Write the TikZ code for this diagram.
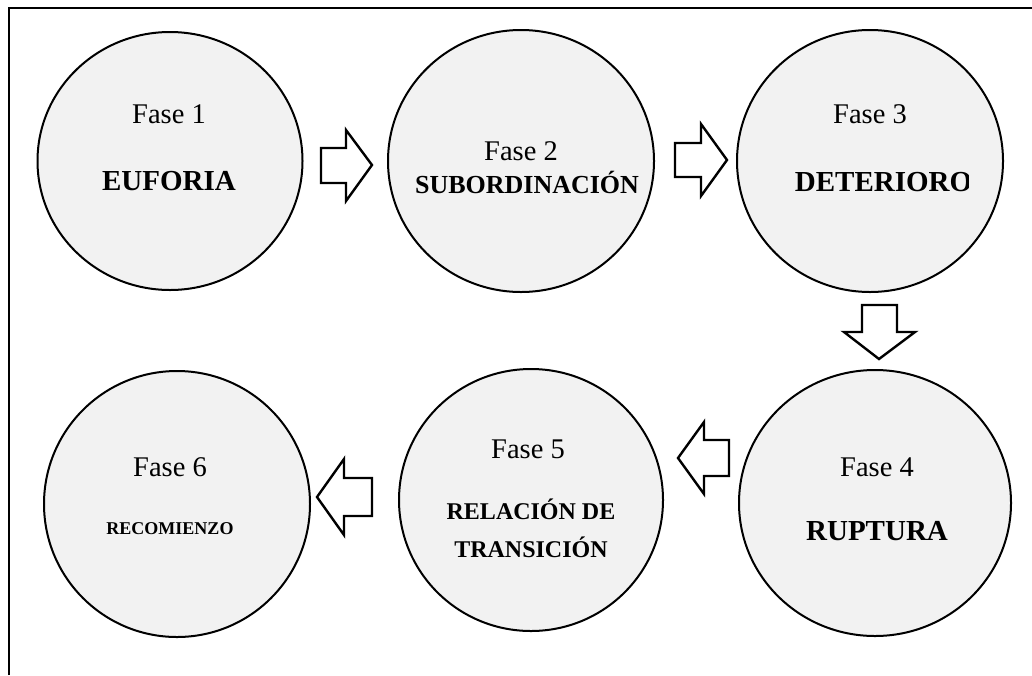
\documentclass[tikz,border=0pt]{standalone}
\usepackage{fontspec}
\setmainfont{Liberation Serif}
\usetikzlibrary{shapes.geometric}
\definecolor{circfill}{HTML}{F2F2F2}
\tikzset{
  phase/.style={ellipse, draw=black, line width=2pt, fill=circfill, inner sep=0pt},
  fase/.style={anchor=base, inner sep=0pt, font=\fontsize{28.5}{32}\selectfont},
  title/.style={anchor=base, inner sep=0pt, font=\fontsize{29}{32}\selectfont\bfseries},
  blockarrow/.style={draw=black, fill=white, line width=2.4pt, line join=miter},
  frame/.style={draw=black, line width=2.2pt}
}
\begin{document}
\begin{tikzpicture}[x=1pt,y=-1pt]
\useasboundingbox (0,0) rectangle (1032,675);
% frame
\coordinate (fl) at (9,675);
\coordinate (ftl) at (9,8);
\coordinate (ftr) at (1032,8);
\draw[frame] (fl) -- (ftl) -- (ftr);
% circles
\node[phase, minimum width=265pt, minimum height=258pt] (c1) at (170,161) {};
\node[phase, minimum width=266pt, minimum height=262pt] (c2) at (521,161) {};
\node[phase, minimum width=266pt, minimum height=262pt] (c3) at (870,161) {};
\node[phase, minimum width=272pt, minimum height=266pt] (c4) at (875,503) {};
\node[phase, minimum width=264pt, minimum height=262pt] (c5) at (531,500) {};
\node[phase, minimum width=266pt, minimum height=266pt] (c6) at (177,504) {};
% texts
\node[fase] (f1) at (169,123) {Fase 1};
\node[title] (t1) at (169,190) {EUFORIA};
\node[fase] (f2) at (521,160) {Fase 2};
\node[title, font=\fontsize{26}{30}\selectfont\bfseries] (t2) at (527,193) {SUBORDINACIÓN};
\node[fase] (f3) at (870,123) {Fase 3};
\begin{scope}
\clip (780,140) rectangle (968,200);
\node[title] (t3) at (883.5,191) {DETERIORO};
\end{scope}
\node[fase] (f4) at (877,476) {Fase 4};
\node[title] (t4) at (877,540) {RUPTURA};
\node[fase] (f5) at (528,458) {Fase 5};
\node[title, font=\fontsize{24}{28}\selectfont\bfseries] (t5a) at (531,519) {RELACIÓN DE};
\node[title, font=\fontsize{24}{28}\selectfont\bfseries] (t5b) at (531,557) {TRANSICIÓN};
\node[fase] (f6) at (170,476) {Fase 6};
\node[title, font=\fontsize{18}{22}\selectfont\bfseries] (t6) at (170,534) {RECOMIENZO};
% block arrows
% 1 -> 2
\draw[blockarrow] (321,148) -- (346,148) -- (346,130) -- (372,165) -- (346,201) -- (346,183) -- (321,183) -- cycle;
% 2 -> 3
\draw[blockarrow] (675,143) -- (701,143) -- (701,124) -- (727,160) -- (701,196) -- (701,177) -- (675,177) -- cycle;
% 3 -> 4
\draw[blockarrow] (862,305) -- (897,305) -- (897,332) -- (915,332) -- (879,359) -- (844,332) -- (862,332) -- cycle;
% 4 -> 5
\draw[blockarrow] (729,440) -- (704,440) -- (704,422) -- (678,458) -- (704,494) -- (704,476) -- (729,476) -- cycle;
% 5 -> 6
\draw[blockarrow] (372,478) -- (344,478) -- (344,459) -- (317,497) -- (344,535) -- (344,516) -- (372,516) -- cycle;
\end{tikzpicture}
\end{document}
